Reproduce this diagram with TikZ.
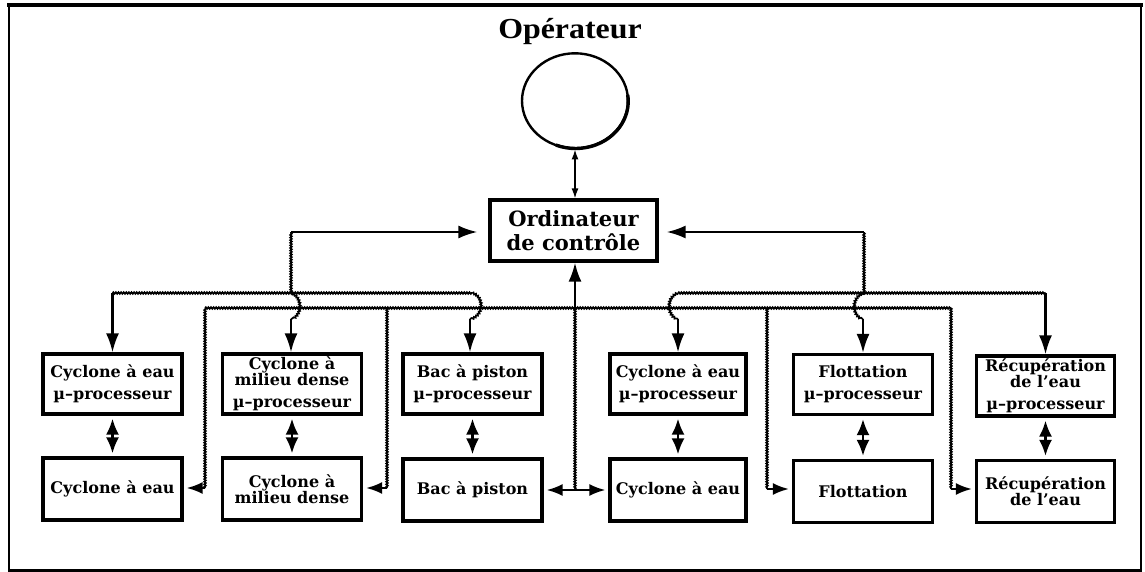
\documentclass[tikz,border=0pt]{standalone}
\usepackage{fontspec}
\setmainfont{DejaVu Serif}
\newfontfamily\titlefont{Liberation Serif}
\newfontfamily\boxfont{DejaVu Serif}
\usetikzlibrary{arrows.meta,decorations.pathmorphing,shapes.geometric}
\begin{document}
\begin{tikzpicture}[x=1pt,y=-1pt,
  box/.style={draw, line width=3.2pt, minimum width=139pt, minimum height=60pt, inner sep=0pt, align=center,
    font=\boxfont\bfseries\fontsize{16}{16}\selectfont},
  wv/.style={decorate, decoration={snake, amplitude=0.8pt, segment length=2.6pt}, line width=1.7pt},
  ar/.style={-{Latex[length=19pt,width=13pt]}, line width=2.4pt},
  arh/.style={-{Latex[length=16pt,width=12pt]}, line width=2.2pt, shorten >=3pt},
  darh/.style={{Latex[length=16pt,width=12pt]}-{Latex[length=16pt,width=12pt]}, line width=2.2pt, shorten >=3pt, shorten <=3pt},
  dar/.style={{Latex[length=16pt,width=13pt]}-{Latex[length=16pt,width=13pt]}, line width=2.4pt, shorten >=3pt, shorten <=3pt},
  oar/.style={{Latex[length=10pt,width=7pt]}-{Latex[length=10pt,width=7pt]}, line width=1.4pt},
]
\useasboundingbox (0,0) rectangle (1145,572);
% frame
\draw[line width=2.4pt] (9,5) -- (9,570.5) -- (1141,570.5) -- (1141,5);
\draw[line width=4pt] (7,5) -- (1143,5);

% title and operator
\node[font=\titlefont\bfseries\fontsize{29}{30}\selectfont, anchor=base, inner sep=0pt] (titre) at (570,39) {\scalebox{1.1}[1]{Opérateur}};
\node[draw, ellipse, minimum width=106pt, minimum height=95pt, line width=2.4pt, inner sep=0pt] (op) at (575,100.8) {};
\begin{scope}[shift={(575.6,101.4)}, x=1pt, y=1pt]
  \draw[line width=3.4pt] (-112:52.6 and 47.1) arc[start angle=-112, end angle=8, x radius=52.6, y radius=47.1];
\end{scope}

% control computer
\node[box, minimum width=167pt, minimum height=61pt, font=\boxfont\bfseries\fontsize{21}{24}\selectfont] (ord) at (573.5,230.5) {Ordinateur\\de contrôle};
\draw[oar] (op.south) -- (op.south |- ord.north);

% boxes, top row (micro-processors)
\node[box] (t1) at (112.5,384) {Cyclone à eau\\[6pt]µ–processeur};
\node[box] (t2) at (292,384) {Cyclone à\\milieu dense\\[6pt]µ–processeur};
\node[box] (t3) at (472.5,384) {Bac à piston\\[6pt]µ–processeur};
\node[box, minimum width=136pt] (t4) at (678,384) {Cyclone à eau\\[6pt]µ–processeur};
\node[box] (t5) at (863,384.5) {Flottation\\[6pt]µ–processeur};
\node[box, minimum width=138pt] (t6) at (1045.5,386) {Récupération\\de l’eau\\[6pt]µ–processeur};

% boxes, bottom row
\node[box, minimum height=62pt] (b1) at (112.5,489) {Cyclone à eau};
\node[box, minimum height=62pt] (b2) at (292,489) {Cyclone à\\milieu dense};
\node[box, minimum height=62pt] (b3) at (472.5,490) {Bac à piston};
\node[box, minimum height=62pt, minimum width=136pt] (b4) at (678,490) {Cyclone à eau};
\node[box, minimum height=62pt] (b5) at (863,491.5) {Flottation};
\node[box, minimum height=62pt, minimum width=138pt] (b6) at (1045.5,491.5) {Récupération\\de l’eau};

% vertical double arrows between micro-processor and unit
\foreach \i in {1,...,6} {
  \draw[dar] (t\i.south) -- (b\i.north);
}

% feeds into the control computer
\coordinate (fl) at (291,232);
\coordinate (flb) at (291,293);
\coordinate (fr) at (864,232);
\coordinate (frb) at (864,293);
\draw[wv] (flb) -- (fl);
\draw[ar, shorten >=11pt] (fl) -- (fl -| ord.west);
\draw[wv] (frb) -- (fr);
\draw[ar, shorten >=8pt] (fr) -- (fr -| ord.east);

% bus 1, left part
\coordinate (l1) at (112.5,293);
\coordinate (l3) at (472.5,293);
\draw[wv] (l1) -- (l3);
\draw[ar] (l1) -- (t1.north);
\coordinate (h2) at (291,319);
\draw[wv] (flb) .. controls (302,297) and (302,315) .. (h2);
\draw[ar] (h2) -- (h2 |- t2.north);
\coordinate (h3) at (470,319);
\draw[wv] (l3) .. controls (483.5,297) and (483.5,315) .. (h3);
\draw[ar] (h3) -- (h3 |- t3.north);

% bus 1, right part
\coordinate (r4) at (678,293);
\coordinate (r6) at (1045.5,293);
\draw[wv] (r4) -- (r6);
\draw[ar] (r6) -- (t6.north);
\coordinate (h4) at (678,319);
\draw[wv] (r4) .. controls (667,297) and (667,315) .. (h4);
\draw[ar] (h4) -- (t4.north);
\coordinate (h5) at (863,319);
\draw[wv] (frb) .. controls (852,297) and (852,315) .. (h5);
\draw[ar] (h5) -- (t5.north);

% bus 2
\coordinate (d1) at (205,308);   \coordinate (e1) at (205,488);
\coordinate (d2) at (387,308);   \coordinate (e2) at (387,488);
\coordinate (d3) at (575,308);   \coordinate (e3) at (575,490);
\coordinate (d5) at (767,308);   \coordinate (e5) at (767,489);
\coordinate (d6) at (951,308);   \coordinate (e6) at (951,489);
\draw[wv] (d1) -- (d6);
\draw[wv] (d1) -- (e1);
\draw[wv] (d2) -- (e2);
\draw[wv] (d3) -- (e3);
\draw[wv] (d5) -- (e5);
\draw[wv] (d6) -- (e6);
\draw[ar] (d3) -- (d3 |- ord.south);

% arrows into the units
\draw[arh] (e1) -- (e1 -| b1.east);
\draw[arh] (e2) -- (e2 -| b2.east);
\draw[darh] (b3.east) -- (b4.west);
\draw[arh] (e5) -- (e5 -| b5.west);
\draw[arh] (e6) -- (e6 -| b6.west);
\end{tikzpicture}
\end{document}
